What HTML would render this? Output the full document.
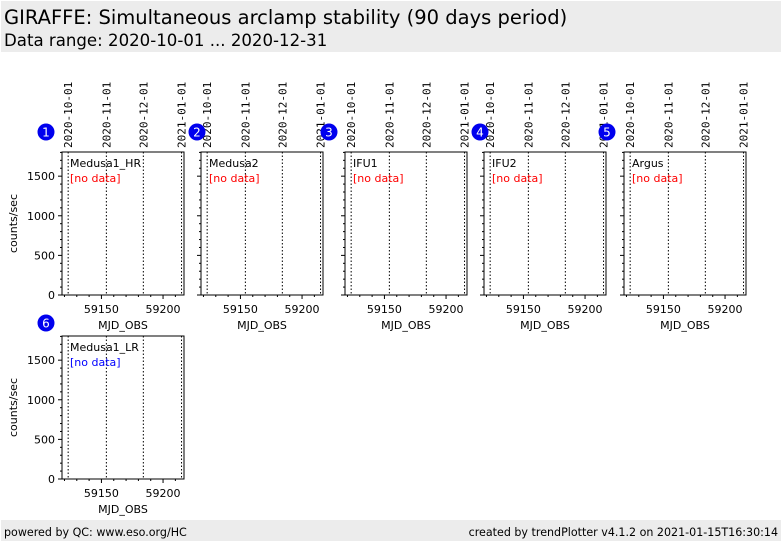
<!DOCTYPE html>
<html><head><meta charset="utf-8">
<style>
body{margin:0;background:#fff;width:782px;height:542px;overflow:hidden;font-family:"DejaVu Sans","Liberation Sans",sans-serif}
svg{display:block}
</style></head><body>
<svg id="chart" width="782" height="542" xmlns="http://www.w3.org/2000/svg">
<rect x="1" y="1" width="780" height="51" fill="#ececec"/>
<text x="4" y="24" font-size="19.5" fill="#000">GIRAFFE: Simultaneous arclamp stability (90 days period)</text>
<text x="4" y="46" font-size="16.6" fill="#000">Data range: 2020-10-01 ... 2020-12-31</text>
<rect x="1" y="520" width="780" height="21" fill="#ececec"/>
<text x="4" y="536" font-size="11.1">powered by QC: www.eso.org/HC</text>
<text x="778" y="536" font-size="11.1" text-anchor="end">created by trendPlotter v4.1.2 on 2021-01-15T16:30:14</text>
<g id="panels"></g>
</svg>
<script>
const panelNames = ["Medusa1_HR","Medusa2","IFU1","IFU2","Argus","Medusa1_LR"];
const panelNoDataColors = ["red","red","red","red","red","blue"];
const dateLabels = ["2020-10-01","2020-11-01","2020-12-01","2021-01-01"];
const dateMjd = [59123,59154,59184,59215];
const xTicks = [59150,59200];
const yTicks = [0,500,1000,1500];
const xDomain = [59118,59217];
const yDomain = [0,1805];

const NS="http://www.w3.org/2000/svg";
const root=document.getElementById('panels');
const layout=[[62,152,true],[201,152,false],[345,152,false],[484,152,false],[624,152,false],[62,336,true]];
const badgeX=[46,197,329,480,607,46];
const W=122,H=143;
function mk(tag,attrs,parent){const e=document.createElementNS(NS,tag);for(const k in attrs)e.setAttribute(k,attrs[k]);(parent||root).appendChild(e);return e;}
panelNames.forEach((name,i)=>{
  const [x0,y0,showY]=layout[i];
  const g=mk('g',{});
  
  
  const sx=v=>x0+(v-xDomain[0])/(xDomain[1]-xDomain[0])*W;
  const sy=v=>y0+H-(v-yDomain[0])/(yDomain[1]-yDomain[0])*H;
  dateMjd.forEach((m,j)=>{
    const l=mk('line',{x1:sx(m),x2:sx(m),y1:y0,y2:y0+H,stroke:'#000','stroke-width':1,'stroke-dasharray':'1.5,2'},g);
    
    
    if(i<5){
      const t=mk('text',{x:0,y:0,'font-size':11,'font-family':'"DejaVu Sans Mono","Liberation Mono",monospace',transform:`translate(${sx(m)+4},148) rotate(-90)`},g);
      t.textContent=dateLabels[j];
      
      
    }
  });
  const fr=mk('rect',{x:x0,y:y0,width:W,height:H,fill:'none',stroke:'#000','stroke-width':1},g);
  
  
  for(let v=59120;v<=59215;v+=10){
    const major=xTicks.includes(v);
    mk('line',{x1:sx(v),x2:sx(v),y1:y0+H,y2:y0+H+(major?4:2),stroke:'#000'},g);
  }
  xTicks.forEach(v=>{
    const t=mk('text',{x:sx(v),y:y0+H+18,'font-size':11,'text-anchor':'middle'},g);
    t.textContent=v;
    
    
  });
  const xt=mk('text',{x:x0+W/2,y:y0+H+34,'font-size':11,'text-anchor':'middle'},g);
  xt.textContent='MJD_OBS';
  
  
  for(let v=0;v<=1800;v+=100){
    const major=yTicks.includes(v);
    mk('line',{x1:x0,x2:x0-(major?4:2),y1:sy(v),y2:sy(v),stroke:'#000'},g);
  }
  if(showY){
    yTicks.forEach(v=>{
      const t=mk('text',{x:x0-7,y:sy(v)+4,'font-size':11,'text-anchor':'end'},g);
      t.textContent=v;
      
      
    });
    const yt=mk('text',{x:0,y:0,'font-size':11,'text-anchor':'middle',transform:`translate(17,${y0+H/2}) rotate(-90)`},g);
    yt.textContent='counts/sec';
    
    
  }
  const nm=mk('text',{x:x0+8,y:y0+15,'font-size':11},g);
  nm.textContent=name;
  
  
  const nd=mk('text',{x:x0+8,y:y0+30,'font-size':11,fill:panelNoDataColors[i]},g);
  nd.textContent='[no data]';
  
  
  const by=i<5?132:323;
  const c=mk('circle',{cx:badgeX[i],cy:by,r:8.5,fill:'#0000ee'},g);
  
  
  const bt=mk('text',{x:badgeX[i],y:by+4.5,'font-size':12,fill:'#fff','text-anchor':'middle'},g);
  bt.textContent=i+1;
  
  
});
</script>
</body></html>
